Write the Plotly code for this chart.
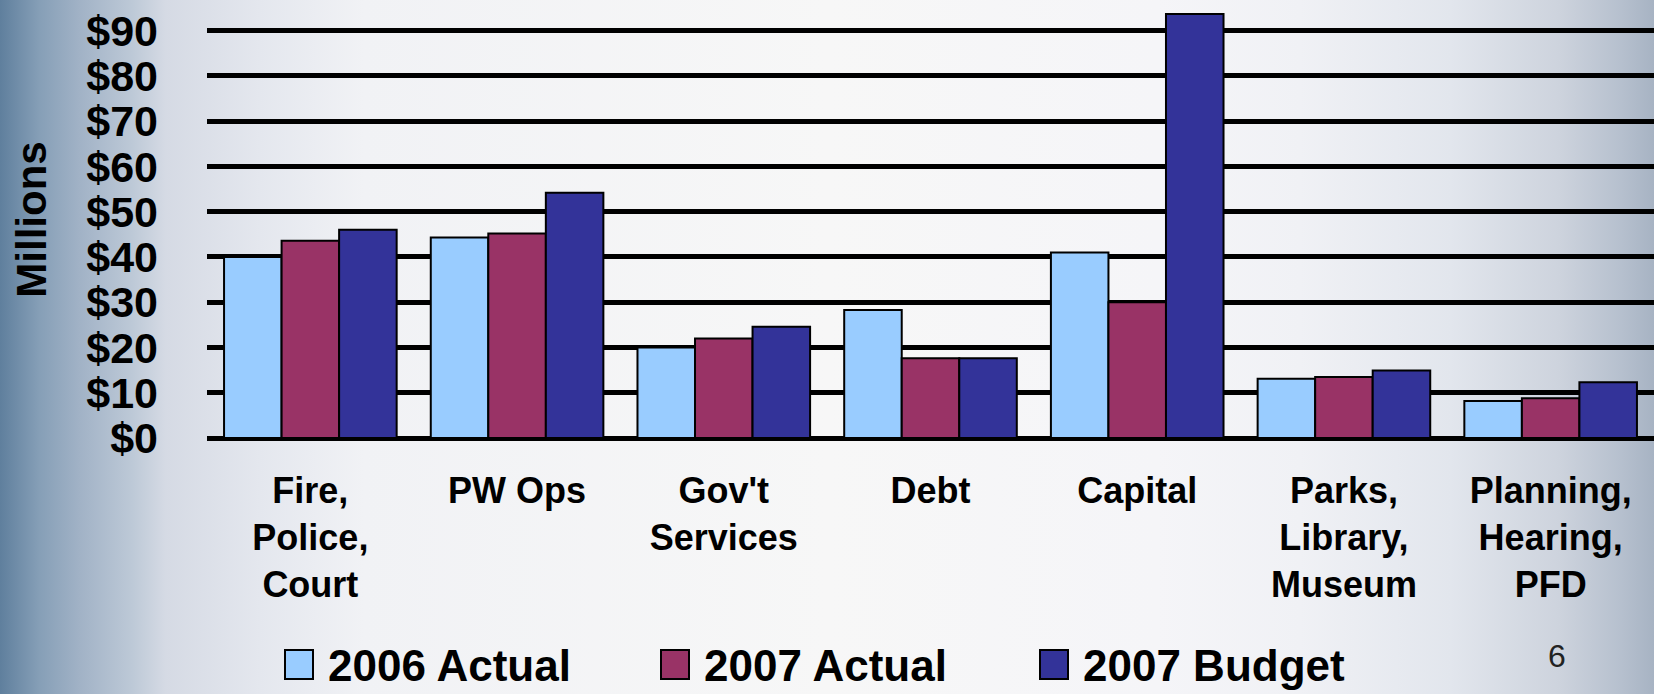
import base64
import plotly.graph_objects as go

categories = ["Fire,<br>Police,<br>Court", "PW Ops", "Gov't<br>Services", "Debt",
              "Capital", "Parks,<br>Library,<br>Museum", "Planning,<br>Hearing,<br>PFD"]
actual_2006 = [40.0, 44.3, 20.0, 28.3, 41.0, 13.1, 8.2]
actual_2007 = [43.6, 45.2, 22.0, 17.6, 30.0, 13.5, 8.8]
budget_2007 = [46.0, 54.2, 24.6, 17.6, 93.7, 14.9, 12.3]
series_names = ["2006 Actual", "2007 Actual", "2007 Budget"]
series_colors = ["#99CCFF", "#993366", "#333399"]
y_ticks = [0, 10, 20, 30, 40, 50, 60, 70, 80, 90]

W, H = 1654, 694
ML, MR, MT, MB = 207, 0, 1, 256
PW, PH = W - ML - MR, H - MT - MB

def px_x(x):
    return (x - ML) / PW

def px_y(y):
    return (H - MB - y) / PH

fig = go.Figure()
for name, vals, col in zip(series_names, [actual_2006, actual_2007, budget_2007], series_colors):
    fig.add_trace(go.Bar(x=categories, y=vals, name=name, marker=dict(color=col, line=dict(color="black", width=2)),
                         showlegend=False))

# background gradient
stops = [(0, "#5f7f9d"), (0.024, "#869fb7"), (0.048, "#a1b2c6"), (0.08, "#bdc9d7"), (0.10, "#d5dae4"),
         (0.157, "#e4e7ee"), (0.22, "#f1f2f5"), (0.5, "#f7f7f7"), (0.70, "#f5f5f8"), (0.786, "#f0f1f5"),
         (0.877, "#e2e6ed"), (0.943, "#cdd3dd"), (0.98, "#b6c0ce"), (1, "#a7b3c3")]
stop_xml = "".join(f'<stop offset="{o}" stop-color="{c}"/>' for o, c in stops)
svg = (f'<svg xmlns="http://www.w3.org/2000/svg" width="{W}" height="{H}" preserveAspectRatio="none">'
       f'<defs><linearGradient id="g" x1="0" y1="0" x2="1" y2="0">{stop_xml}</linearGradient></defs>'
       f'<rect width="{W}" height="{H}" fill="url(#g)"/></svg>')
src = "data:image/svg+xml;base64," + base64.b64encode(svg.encode()).decode()

fig.add_layout_image(dict(source=src, xref="paper", yref="paper", x=px_x(0), y=px_y(0),
                          sizex=W / PW, sizey=H / PH, sizing="stretch", xanchor="left", yanchor="top",
                          layer="below"))

font_family = "Liberation Sans, Arial, sans-serif"

# custom legend
legend_sq_x = [285, 661, 1040]
for i, (name, col) in enumerate(zip(series_names, series_colors)):
    x0 = legend_sq_x[i]
    fig.add_shape(type="rect", xref="paper", yref="paper", x0=px_x(x0), x1=px_x(x0 + 28),
                  y0=px_y(650), y1=px_y(679), fillcolor=col, line=dict(color="black", width=2))
    fig.add_annotation(xref="paper", yref="paper", x=px_x(x0 + 41), y=px_y(665), text=name,
                       showarrow=False, xanchor="left", yanchor="middle",
                       font=dict(family=font_family, size=44, color="black", weight="bold"))

fig.add_annotation(xref="paper", yref="paper", x=px_x(1557), y=px_y(656), text="6", showarrow=False,
                   xanchor="center", yanchor="middle", font=dict(family=font_family, size=32, color="#222222"))

fig.update_layout(
    width=W, height=H, margin=dict(l=ML, r=MR, t=MT, b=MB),
    barmode="group", bargap=0.165, bargroupgap=0,
    paper_bgcolor="#f7f7f7", plot_bgcolor="rgba(0,0,0,0)",
    xaxis=dict(showgrid=False, ticks="", ticklabelstandoff=28,
               tickfont=dict(family=font_family, size=36, color="black", weight="bold")),
    yaxis=dict(range=[0, PH / 4.526], tickvals=y_ticks, ticktext=[f"${v}" for v in y_ticks],
               showgrid=True, gridcolor="black", gridwidth=5, zeroline=True, zerolinecolor="black",
               zerolinewidth=5, ticks="", ticklabelstandoff=48,
               tickfont=dict(family=font_family, size=43, color="black", weight="bold"),
               title=dict(text="Millions", standoff=26,
                          font=dict(family=font_family, size=42, color="black", weight="bold"))),
)

fig.write_html("out.html")
